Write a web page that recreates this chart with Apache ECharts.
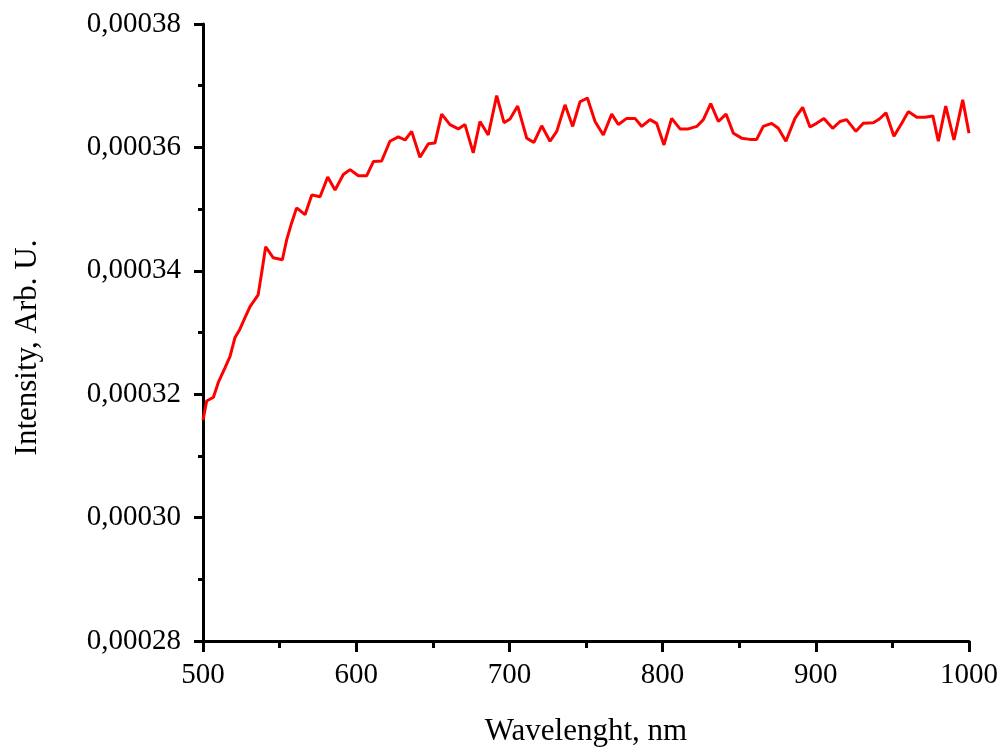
<!DOCTYPE html>
<html>
<head>
<meta charset="utf-8">
<script src="https://cdn.jsdelivr.net/npm/echarts@6/dist/echarts.min.js"></script>
<style>html,body{margin:0;padding:0;background:#fff}#c{width:1007px;height:752px}</style>
</head>
<body>
<div id="c"></div>
<script>
const wavelength = [500, 502.4, 506.8, 510, 514.4, 517.6, 520.9, 524, 527.4, 530.7, 536, 538.3, 540.9, 545.9, 551.8, 554.6, 557.9, 561.1, 566.6, 571, 576.4, 581.4, 586.2, 591.6, 596, 601.4, 606.8, 611.2, 616.6, 622, 627.5, 631.9, 636.2, 641.6, 647.1, 651.4, 655.8, 661.2, 666.6, 671, 676.4, 680.8, 686.2, 691.7, 696.5, 700.4, 705.4, 711.3, 716, 721.1, 726.5, 730.9, 736.3, 741.3, 746.1, 750.9, 755.9, 761.3, 766.8, 771.1, 776.6, 782, 786.4, 791.8, 796.1, 800.9, 805.9, 811.4, 816.8, 822.3, 826.6, 831.4, 836.4, 841.4, 846.2, 851.6, 857, 861.4, 865.7, 871.2, 875.5, 880.5, 886.4, 891.4, 896.2, 900.5, 905.3, 911, 915.8, 920.1, 926.2, 931, 937.5, 941.5, 945.8, 951, 956.1, 960.4, 965.9, 971.3, 976.4, 980, 984.8, 990.2, 995.9, 1000];
const intensity = [0.0003158, 0.0003189, 0.0003195, 0.0003219, 0.0003243, 0.0003261, 0.0003292, 0.0003305, 0.0003324, 0.0003342, 0.0003361, 0.0003397, 0.0003439, 0.0003421, 0.0003418, 0.000345, 0.0003478, 0.0003502, 0.0003491, 0.0003523, 0.000352, 0.0003552, 0.0003531, 0.0003556, 0.0003564, 0.0003554, 0.0003554, 0.0003577, 0.0003578, 0.000361, 0.0003617, 0.0003612, 0.0003626, 0.0003584, 0.0003606, 0.0003607, 0.0003654, 0.0003637, 0.000363, 0.0003637, 0.0003591, 0.0003642, 0.000362, 0.0003684, 0.000364, 0.0003646, 0.0003667, 0.0003615, 0.0003608, 0.0003635, 0.000361, 0.0003626, 0.0003669, 0.0003634, 0.0003674, 0.000368, 0.0003642, 0.000362, 0.0003654, 0.0003637, 0.0003647, 0.0003647, 0.0003634, 0.0003645, 0.0003639, 0.0003604, 0.0003647, 0.000363, 0.000363, 0.0003634, 0.0003645, 0.0003671, 0.0003642, 0.0003654, 0.0003623, 0.0003615, 0.0003613, 0.0003613, 0.0003634, 0.0003639, 0.0003631, 0.000361, 0.0003647, 0.0003665, 0.0003633, 0.0003639, 0.0003647, 0.0003631, 0.0003642, 0.0003645, 0.0003626, 0.0003639, 0.000364, 0.0003646, 0.0003656, 0.0003618, 0.0003639, 0.0003658, 0.0003649, 0.0003649, 0.0003651, 0.000361, 0.0003667, 0.0003612, 0.0003677, 0.0003623];
const xTitle = 'Wavelenght, nm';
const yTitle = 'Intensity, Arb. U.';

const font = '"Liberation Serif", "Times New Roman", serif';
const chart = echarts.init(document.getElementById('c'), null, {renderer: 'canvas'});
chart.setOption({
  animation: false,
  backgroundColor: '#ffffff',
  grid: {left: 203, right: 38, top: 24, bottom: 110, containLabel: false},
  xAxis: {
    type: 'value', min: 500, max: 1000, interval: 100,
    name: xTitle, nameLocation: 'middle', nameGap: 75,
    nameTextStyle: {fontFamily: font, fontSize: 31, color: '#000'},
    axisLine: {show: true, lineStyle: {color: '#000', width: 3}},
    axisTick: {show: true, inside: false, length: 11, lineStyle: {color: '#000', width: 3}},
    minorTick: {show: true, splitNumber: 2, length: 7, lineStyle: {color: '#000', width: 3}},
    splitLine: {show: false},
    axisLabel: {fontFamily: font, fontSize: 29, color: '#000', margin: 20,
      formatter: v => String(v)}
  },
  yAxis: {
    type: 'value', min: 0.00028, max: 0.00038, interval: 0.00002,
    name: yTitle, nameLocation: 'middle', nameGap: 160, nameRotate: 90,
    nameTextStyle: {fontFamily: font, fontSize: 31, color: '#000', padding: [0, 30, 0, 0]},
    axisLine: {show: true, lineStyle: {color: '#000', width: 3}},
    axisTick: {show: true, inside: false, length: 9, lineStyle: {color: '#000', width: 3}},
    minorTick: {show: true, splitNumber: 2, length: 5, lineStyle: {color: '#000', width: 3}},
    splitLine: {show: false},
    axisLabel: {fontFamily: font, fontSize: 29, color: '#000', margin: 22,
      formatter: v => v.toFixed(5).replace('.', ',')}
  },
  series: [{
    type: 'line',
    data: wavelength.map((w, i) => [w, intensity[i]]),
    showSymbol: false,
    lineStyle: {color: '#ff0000', width: 3},
    z: 1
  }]
});
</script>
</body>
</html>
